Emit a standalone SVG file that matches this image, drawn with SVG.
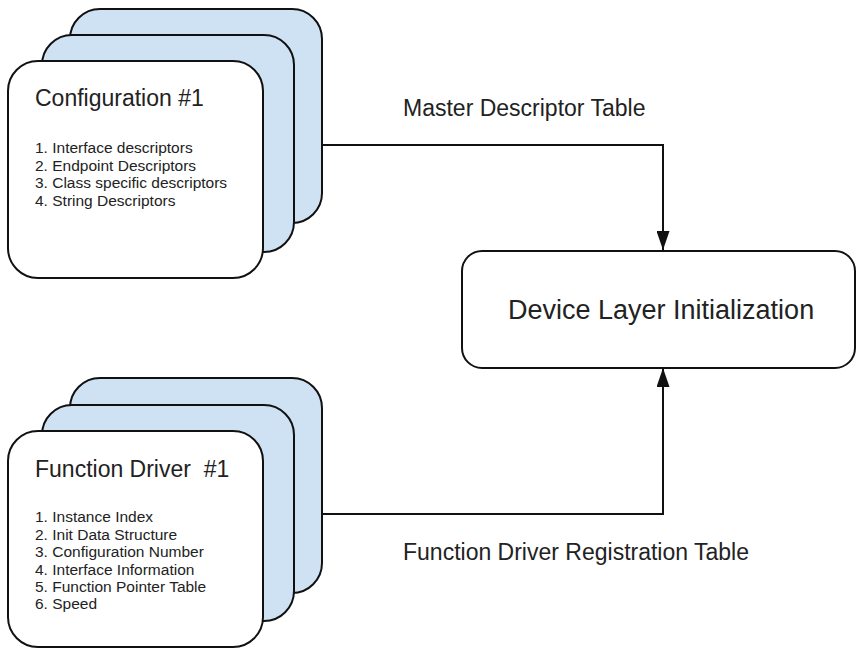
<svg xmlns="http://www.w3.org/2000/svg" width="857" height="649" viewBox="0 0 857 649">
<style>
  .card { stroke: #111; stroke-width: 2; }
  .back { fill: #cfe2f3; }
  .front { fill: #ffffff; }
  .title { font-family: "Liberation Sans", Arial, sans-serif; font-size: 23px; fill: #222; white-space: pre; }
  .item { font-family: "Liberation Sans", Arial, sans-serif; font-size: 15.5px; fill: #222; }
  .label { font-family: "Liberation Sans", Arial, sans-serif; font-size: 23px; fill: #222; }
  .big { font-family: "Liberation Sans", Arial, sans-serif; font-size: 27px; fill: #222; }
  .conn { fill: none; stroke: #111; stroke-width: 2; }
</style>
<defs>
  <marker id="arrow" viewBox="0 0 19 13" refX="19" refY="6.5" markerWidth="19" markerHeight="13" markerUnits="userSpaceOnUse" orient="auto">
    <path d="M0,0 L19,6.5 L0,13 Z" fill="#111"/>
  </marker>
</defs>
<rect width="857" height="649" fill="#ffffff"/>

<g id="connectors">
  <path class="conn" d="M294,145 H663 V250" marker-end="url(#arrow)"/>
  <path class="conn" d="M294,514 H663 V368" marker-end="url(#arrow)"/>
  <text class="label" x="403" y="116">Master Descriptor Table</text>
  <text class="label" x="403" y="560">Function Driver Registration Table</text>
</g>

<g id="configuration-stack">
  <rect class="card back" x="70" y="9" width="252" height="214" rx="30" ry="30"/>
  <rect class="card back" x="42" y="35" width="252" height="217" rx="30" ry="30"/>
  <rect class="card front" x="8" y="61" width="255" height="217" rx="30" ry="30"/>
  <text class="title" x="35" y="106">Configuration #1</text>
  <text class="item" x="35" y="153">1. Interface descriptors</text>
  <text class="item" x="35" y="170.7">2. Endpoint Descriptors</text>
  <text class="item" x="35" y="188.3">3. Class specific descriptors</text>
  <text class="item" x="35" y="206">4. String Descriptors</text>
</g>

<g id="function-driver-stack">
  <rect class="card back" x="70" y="378" width="252" height="215" rx="30" ry="30"/>
  <rect class="card back" x="42" y="405" width="252" height="216" rx="30" ry="30"/>
  <rect class="card front" x="8" y="431" width="255" height="216" rx="30" ry="30"/>
  <text class="title" x="35" y="476.7" xml:space="preserve">Function Driver  #1</text>
  <text class="item" x="35" y="522.3">1. Instance Index</text>
  <text class="item" x="35" y="540">2. Init Data Structure</text>
  <text class="item" x="35" y="557.3">3. Configuration Number</text>
  <text class="item" x="35" y="575">4. Interface Information</text>
  <text class="item" x="35" y="592.3">5. Function Pointer Table</text>
  <text class="item" x="35" y="609.3">6. Speed</text>
</g>

<g id="device-layer">
  <rect class="card front" x="462" y="251" width="393" height="117" rx="20" ry="20"/>
  <text class="big" x="508" y="319">Device Layer Initialization</text>
</g>
</svg>
